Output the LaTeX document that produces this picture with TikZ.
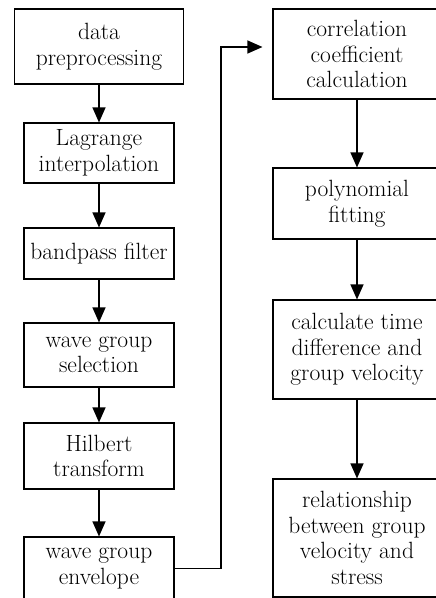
\documentclass[tikz,border=0pt]{standalone}
\usetikzlibrary{arrows.meta,calc}
\begin{document}
\begin{tikzpicture}[x=1pt,y=-1pt,
  box/.style={draw,line width=1.1pt,inner sep=0pt,align=center,
    font=\fontsize{23.5}{25.5}\selectfont},
  arr/.style={line width=1.1pt,-{Triangle[width=13pt,length=15pt]}}]
\useasboundingbox (0,0) rectangle (436,598);
% left column
\node[box,minimum width=169pt,minimum height=75pt] (L1) at (99,46.5) {data\\preprocessing};
\node[box,minimum width=150pt,minimum height=60pt] (L2) at (99,153) {Lagrange\\interpolation};
\node[box,minimum width=150pt,minimum height=51pt] (L3) at (99,253.5) {bandpass filter};
\node[box,minimum width=150pt,minimum height=64pt] (L4) at (99,355) {wave group\\selection};
\node[box,minimum width=150pt,minimum height=66pt] (L5) at (99,456) {Hilbert\\transform};
\node[box,minimum width=150pt,minimum height=63pt] (L6) at (99,568.5) {wave group\\envelope};
% right column
\node[box,minimum width=168pt,minimum height=90pt] (R1) at (357,54) {correlation\\coefficient\\calculation};
\node[box,minimum width=168pt,minimum height=71pt] (R2) at (357,203.5) {polynomial\\fitting};
\node[box,minimum width=168pt,minimum height=99pt] (R3) at (357,349.5) {calculate time\\difference and\\group velocity};
\node[box,minimum width=168pt,minimum height=118pt] (R4) at (357,538) {relationship\\between group\\velocity and\\stress};
% arrows
\draw[arr] (L1) -- (L2);
\draw[arr] (L2) -- (L3);
\draw[arr] (L3) -- (L4);
\draw[arr] (L4) -- (L5);
\draw[arr] (L5) -- (L6);
\draw[arr] (R1) -- (R2);
\draw[arr] (R2) -- (R3);
\draw[arr] (R3) -- (R4);
\coordinate (turn) at (221,47);
\draw[arr,shorten >=10pt] (L6.east) -| (turn) -- (R1.west |- turn);
\end{tikzpicture}
\end{document}
